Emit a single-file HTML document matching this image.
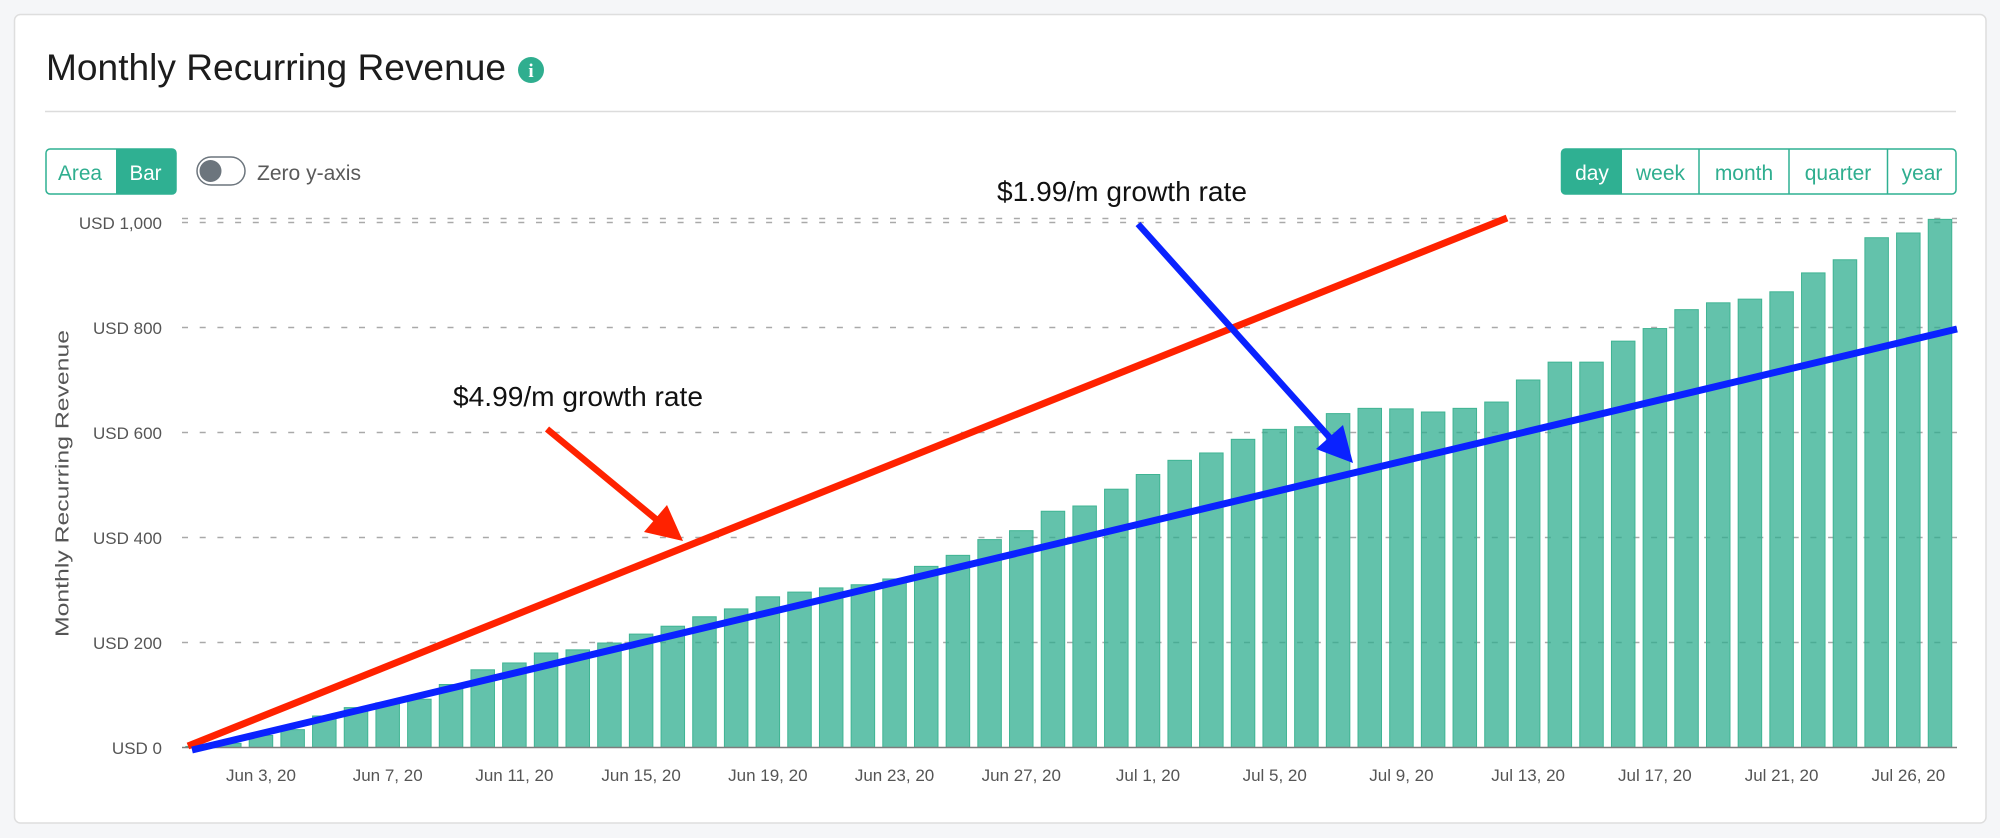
<!DOCTYPE html>
<html>
<head>
<meta charset="utf-8">
<style>
  html,body{margin:0;padding:0;background:#f5f6f8;}
  body{width:2000px;height:838px;overflow:hidden;}
  svg{display:block;font-family:"Liberation Sans",Arial,sans-serif;}
</style>
</head>
<body>
<svg width="2000" height="838" viewBox="0 0 2000 838" xmlns="http://www.w3.org/2000/svg">
  <rect x="0" y="0" width="2000" height="838" fill="#f5f6f8"/>
  <!-- card -->
  <rect x="14.5" y="14.5" width="1971.5" height="808.5" rx="6" ry="6" fill="#ffffff" stroke="#dedede" stroke-width="1.5"/>

  <!-- title -->
  <text x="46" y="80" font-size="37" fill="#1c1c1c" textLength="460" lengthAdjust="spacingAndGlyphs">Monthly Recurring Revenue</text>
  <circle cx="531" cy="70" r="13" fill="#2fae8f"/>
  <text x="531" y="77" font-size="19" font-weight="bold" fill="#ffffff" text-anchor="middle" font-family="Liberation Serif, serif">i</text>
  <line x1="45" y1="111.5" x2="1956" y2="111.5" stroke="#dcdcdc" stroke-width="1.5"/>

  <!-- Area / Bar -->
  <rect x="46" y="149" width="130" height="45" rx="4" ry="4" fill="#ffffff" stroke="#2fb092" stroke-width="1.5"/>
  <path d="M116 149 H172 a4 4 0 0 1 4 4 V190 a4 4 0 0 1 -4 4 H116 Z" fill="#2fb092"/>
  <text x="58" y="180" font-size="21" fill="#2fae8f" textLength="44" lengthAdjust="spacingAndGlyphs">Area</text>
  <text x="129.5" y="180" font-size="21" fill="#ffffff" textLength="32" lengthAdjust="spacingAndGlyphs">Bar</text>

  <!-- toggle -->
  <rect x="197" y="157" width="48" height="28" rx="14" ry="14" fill="#ffffff" stroke="#6c757d" stroke-width="1.5"/>
  <circle cx="210.5" cy="171" r="11" fill="#6c757d"/>
  <text x="257" y="180" font-size="21" fill="#5a5a5a" textLength="104" lengthAdjust="spacingAndGlyphs">Zero y-axis</text>

  <!-- period buttons -->
  <rect x="1561.5" y="149" width="394.5" height="45" rx="4" ry="4" fill="#ffffff" stroke="#2fb092" stroke-width="1.5"/>
  <path d="M1622 149 H1565.5 a4 4 0 0 0 -4 4 V190 a4 4 0 0 0 4 4 H1622 Z" fill="#2fb092"/>
  <line x1="1699" y1="149" x2="1699" y2="194" stroke="#2fb092" stroke-width="1.5"/>
  <line x1="1789" y1="149" x2="1789" y2="194" stroke="#2fb092" stroke-width="1.5"/>
  <line x1="1887.5" y1="149" x2="1887.5" y2="194" stroke="#2fb092" stroke-width="1.5"/>
  <g font-size="21" text-anchor="middle">
    <text x="1592" y="180" fill="#ffffff">day</text>
    <text x="1660.5" y="180" fill="#2fae8f">week</text>
    <text x="1744" y="180" fill="#2fae8f">month</text>
    <text x="1838" y="180" fill="#2fae8f">quarter</text>
    <text x="1922" y="180" fill="#2fae8f">year</text>
  </g>

  <!-- y axis title -->
  <text transform="translate(68.5,637) rotate(-90)" font-size="18.5" fill="#555555" textLength="307" lengthAdjust="spacingAndGlyphs">Monthly Recurring Revenue</text>

  <!-- y labels -->
  <g font-size="17" fill="#555555" text-anchor="end">
    <text x="162" y="229">USD 1,000</text>
    <text x="162" y="334">USD 800</text>
    <text x="162" y="439">USD 600</text>
    <text x="162" y="544">USD 400</text>
    <text x="162" y="649">USD 200</text>
    <text x="162" y="754">USD 0</text>
  </g>

  <!-- grid -->
  <g stroke="#a9a9a9" stroke-width="1.5" stroke-dasharray="6 11.7">
    <line x1="182" y1="218.5" x2="1957" y2="218.5"/>
    <line x1="182" y1="222.5" x2="1957" y2="222.5"/>
    <line x1="182" y1="327.5" x2="1957" y2="327.5"/>
    <line x1="182" y1="432.5" x2="1957" y2="432.5"/>
    <line x1="182" y1="537.5" x2="1957" y2="537.5"/>
    <line x1="182" y1="642.5" x2="1957" y2="642.5"/>
  </g>

  <!-- bars -->
  <g fill="#2fae8f" fill-opacity="0.75" stroke="#3fb493" stroke-width="1">
    <rect x="185.85" y="746.45" width="23.5" height="1.05"/>
    <rect x="217.53" y="743.3" width="23.5" height="4.2"/>
    <rect x="249.21" y="735.42" width="23.5" height="12.08"/>
    <rect x="280.89" y="729.65" width="23.5" height="17.85"/>
    <rect x="312.57" y="716.0" width="23.5" height="31.5"/>
    <rect x="344.25" y="707.6" width="23.5" height="39.9"/>
    <rect x="375.93" y="702.87" width="23.5" height="44.63"/>
    <rect x="407.61" y="699.2" width="23.5" height="48.3"/>
    <rect x="439.29" y="684.5" width="23.5" height="63"/>
    <rect x="470.97" y="669.8" width="23.5" height="77.7"/>
    <rect x="502.65" y="662.97" width="23.5" height="84.53"/>
    <rect x="534.33" y="653.0" width="23.5" height="94.5"/>
    <rect x="566.01" y="649.85" width="23.5" height="97.65"/>
    <rect x="597.69" y="643.02" width="23.5" height="104.48"/>
    <rect x="629.37" y="634.1" width="23.5" height="113.4"/>
    <rect x="661.05" y="626.22" width="23.5" height="121.28"/>
    <rect x="692.73" y="616.77" width="23.5" height="130.73"/>
    <rect x="724.41" y="608.9" width="23.5" height="138.6"/>
    <rect x="756.09" y="596.82" width="23.5" height="150.68"/>
    <rect x="787.77" y="592.1" width="23.5" height="155.4"/>
    <rect x="819.45" y="587.9" width="23.5" height="159.6"/>
    <rect x="851.13" y="584.75" width="23.5" height="162.75"/>
    <rect x="882.81" y="578.97" width="23.5" height="168.53"/>
    <rect x="914.49" y="566.37" width="23.5" height="181.13"/>
    <rect x="946.17" y="555.35" width="23.5" height="192.15"/>
    <rect x="977.85" y="539.6" width="23.5" height="207.9"/>
    <rect x="1009.53" y="530.67" width="23.5" height="216.83"/>
    <rect x="1041.21" y="511.25" width="23.5" height="236.25"/>
    <rect x="1072.89" y="506.0" width="23.5" height="241.5"/>
    <rect x="1104.57" y="489.2" width="23.5" height="258.3"/>
    <rect x="1136.25" y="474.5" width="23.5" height="273.0"/>
    <rect x="1167.93" y="460.32" width="23.5" height="287.18"/>
    <rect x="1199.61" y="452.97" width="23.5" height="294.53"/>
    <rect x="1231.29" y="439.32" width="23.5" height="308.18"/>
    <rect x="1262.97" y="429.35" width="23.5" height="318.15"/>
    <rect x="1294.65" y="426.72" width="23.5" height="320.78"/>
    <rect x="1326.33" y="413.6" width="23.5" height="333.9"/>
    <rect x="1358.01" y="408.35" width="23.5" height="339.15"/>
    <rect x="1389.69" y="408.87" width="23.5" height="338.63"/>
    <rect x="1421.37" y="412.02" width="23.5" height="335.48"/>
    <rect x="1453.05" y="408.35" width="23.5" height="339.15"/>
    <rect x="1484.73" y="402.05" width="23.5" height="345.45"/>
    <rect x="1516.41" y="380.0" width="23.5" height="367.5"/>
    <rect x="1548.09" y="362.15" width="23.5" height="385.35"/>
    <rect x="1579.77" y="362.15" width="23.5" height="385.35"/>
    <rect x="1611.45" y="341.15" width="23.5" height="406.35"/>
    <rect x="1643.13" y="328.55" width="23.5" height="418.95"/>
    <rect x="1674.81" y="309.65" width="23.5" height="437.85"/>
    <rect x="1706.49" y="302.82" width="23.5" height="444.68"/>
    <rect x="1738.17" y="299.15" width="23.5" height="448.35"/>
    <rect x="1769.85" y="291.8" width="23.5" height="455.7"/>
    <rect x="1801.53" y="272.9" width="23.5" height="474.6"/>
    <rect x="1833.21" y="259.77" width="23.5" height="487.73"/>
    <rect x="1864.89" y="237.72" width="23.5" height="509.78"/>
    <rect x="1896.57" y="233.0" width="23.5" height="514.5"/>
    <rect x="1928.25" y="219.35" width="23.5" height="528.15"/>
  </g>

  <!-- x axis line -->
  <line x1="182" y1="747.5" x2="1957" y2="747.5" stroke="#7d7d7d" stroke-width="1.5"/>

  <!-- x labels -->
  <g font-size="17" fill="#555555" text-anchor="middle">
    <text x="260.96" y="781">Jun 3, 20</text>
    <text x="387.68" y="781">Jun 7, 20</text>
    <text x="514.4" y="781">Jun 11, 20</text>
    <text x="641.12" y="781">Jun 15, 20</text>
    <text x="767.84" y="781">Jun 19, 20</text>
    <text x="894.56" y="781">Jun 23, 20</text>
    <text x="1021.28" y="781">Jun 27, 20</text>
    <text x="1148.0" y="781">Jul 1, 20</text>
    <text x="1274.72" y="781">Jul 5, 20</text>
    <text x="1401.44" y="781">Jul 9, 20</text>
    <text x="1528.16" y="781">Jul 13, 20</text>
    <text x="1654.88" y="781">Jul 17, 20</text>
    <text x="1781.6" y="781">Jul 21, 20</text>
    <text x="1908.32" y="781">Jul 26, 20</text>
  </g>

  <!-- trend lines -->
  <line x1="188" y1="746" x2="1507" y2="218" stroke="#ff2200" stroke-width="7"/>
  <line x1="192" y1="750" x2="1957" y2="329" stroke="#0a22ff" stroke-width="7"/>

  <!-- annotations -->
  <text x="453" y="406" font-size="28" fill="#111111" textLength="250" lengthAdjust="spacingAndGlyphs">$4.99/m growth rate</text>
  <line x1="547" y1="429" x2="657" y2="520" stroke="#ff2200" stroke-width="6.5"/>
  <polygon points="683,541 644,532 667,505" fill="#ff2200"/>

  <text x="997" y="201" font-size="28" fill="#111111" textLength="250" lengthAdjust="spacingAndGlyphs">$1.99/m growth rate</text>
  <line x1="1138" y1="224" x2="1331" y2="439" stroke="#0a22ff" stroke-width="6.5"/>
  <polygon points="1353,463 1316,449 1343,425" fill="#0a22ff"/>
</svg>
</body>
</html>
